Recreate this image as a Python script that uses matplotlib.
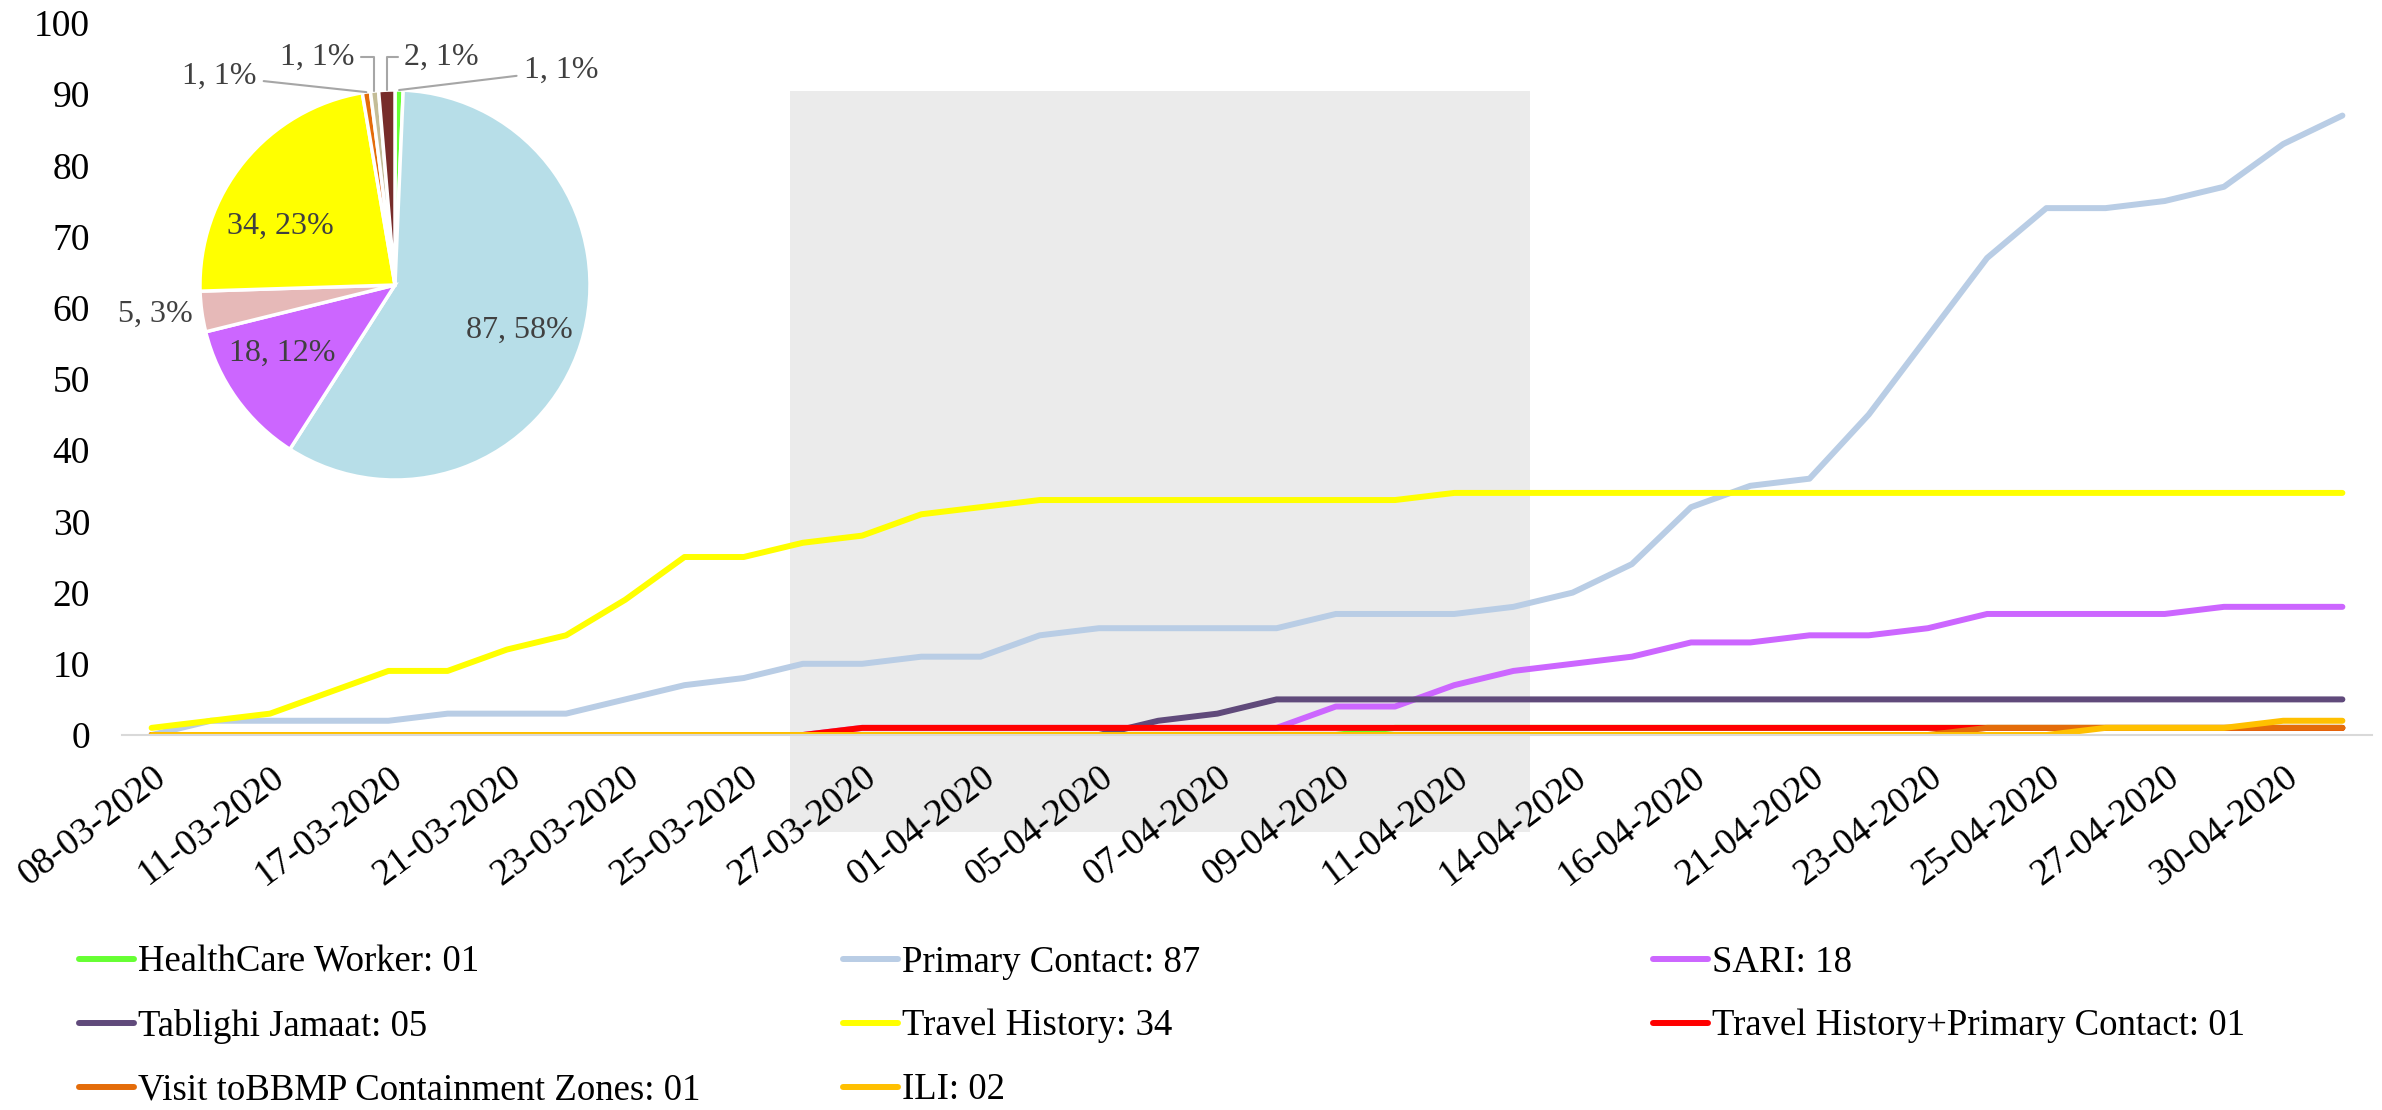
import matplotlib
matplotlib.use("Agg")
import matplotlib.pyplot as plt
from matplotlib.patches import Rectangle
from matplotlib.lines import Line2D
import numpy as np

plt.rcParams['font.family'] = ['Liberation Serif', 'DejaVu Serif']

W, H = 2382, 1110

# category axis (only every second date is labelled on the chart)
dates = ['08-03-2020', '09-03-2020', '11-03-2020', '14-03-2020', '17-03-2020',
         '19-03-2020', '21-03-2020', '22-03-2020', '23-03-2020', '24-03-2020',
         '25-03-2020', '26-03-2020', '27-03-2020', '29-03-2020', '01-04-2020',
         '03-04-2020', '05-04-2020', '06-04-2020', '07-04-2020', '08-04-2020',
         '09-04-2020', '10-04-2020', '11-04-2020', '13-04-2020', '14-04-2020',
         '15-04-2020', '16-04-2020', '18-04-2020', '21-04-2020', '22-04-2020',
         '23-04-2020', '24-04-2020', '25-04-2020', '26-04-2020', '27-04-2020',
         '28-04-2020', '30-04-2020', '01-05-2020']

healthcare = [0]*21 + [1]*17
primary = [0, 2, 2, 2, 2, 3, 3, 3, 5, 7, 8, 10, 10, 11, 11, 14, 15, 15, 15, 15,
           17, 17, 17, 18, 20, 24, 32, 35, 36, 45, 56, 67, 74, 74, 75, 77, 83, 87]
sari = [0]*12 + [1]*8 + [4, 4, 7, 9, 10, 11, 13, 13, 14, 14, 15, 17, 17, 17, 17, 18, 18, 18]
tablighi = [0]*17 + [2, 3] + [5]*19
travel = [1, 2, 3, 6, 9, 9, 12, 14, 19, 25, 25, 27, 28, 31, 32, 33, 33, 33, 33, 33,
          33, 33] + [34]*16
travel_primary = [0]*12 + [1]*26
bbmp = [0]*31 + [1]*7
ili = [0]*33 + [1, 1, 1, 2, 2]

series = [
    ('HealthCare Worker: 01', healthcare, '#66FF33'),
    ('Primary Contact: 87', primary, '#B9CDE5'),
    ('SARI: 18', sari, '#CC66FF'),
    ('Tablighi Jamaat: 05', tablighi, '#604A7B'),
    ('Travel History: 34', travel, '#FFFF00'),
    ('Travel History+Primary Contact: 01', travel_primary, '#FF0000'),
    ('Visit toBBMP Containment Zones: 01', bbmp, '#E46C0A'),
    ('ILI: 02', ili, '#FFC000'),
]

# pie of totals
pie_values = [1, 87, 18, 5, 34, 1, 1, 2]
pie_colors = ['#66FF33', '#B7DEE8', '#CC66FF', '#E6B9B8', '#FFFF00', '#E46C0A', '#C4BD97', '#772C2A']
pie_label_pos = [(0.85, 1.10), (0.64, -0.23), (-0.58, -0.35), (-1.23, -0.15),
                 (-0.59, 0.30), (-0.90, 1.07), (-0.40, 1.17), (0.24, 1.17)]

fig = plt.figure(figsize=(W/100, H/100), dpi=100)

# grey background panel behind the middle of the plot
fig.patches.append(Rectangle((790/W, 1 - 832/H), 740/W, 741/H, transform=fig.transFigure,
                             facecolor='#EBEBEB', edgecolor='none', zorder=-1))

ax = fig.add_axes([122/W, 1 - 735/H, 2250/W, 712/H])
ax.patch.set_visible(False)
x = np.arange(len(dates))
for name, vals, col in series:
    ax.plot(x, vals, color=col, lw=4.3, solid_capstyle='round', solid_joinstyle='round', label=name)

ax.set_xlim(-0.5, len(dates) - 0.5)
ax.set_ylim(0, 100)
ax.set_yticks(range(0, 101, 10))
ax.set_xticks(x[::2])
ax.set_xticklabels(dates[::2], rotation=37, ha='right', va='top', rotation_mode='anchor')
ax.tick_params(axis='both', length=0, labelsize=27)
ax.tick_params(axis='y', pad=23)
ax.tick_params(axis='x', pad=18)
for s in ['top', 'right', 'left']:
    ax.spines[s].set_visible(False)
ax.spines['bottom'].set_color('#D9D9D9')
ax.spines['bottom'].set_linewidth(1.5)

# legend: three columns laid out row by row
handles = [Line2D([], [], color=c, lw=4.3, solid_capstyle='round') for _, _, c in series]
names = [n for n, _, _ in series]
col_x = [79, 843, 1653]
for c in range(3):
    idx = list(range(c, len(series), 3))
    fig.legend([handles[i] for i in idx], [names[i] for i in idx],
               loc='upper left', bbox_to_anchor=(col_x[c]/W, 1 - 945/H),
               frameon=False, fontsize=26.5, handlelength=1.5, handletextpad=0.1,
               labelspacing=0.8, borderaxespad=0, borderpad=0)

# inset pie
r = 195
cx, cy = 395, 285
pax = fig.add_axes([(cx - r)/W, 1 - (cy + r)/H, 2*r/W, 2*r/H])
wedges, _ = pax.pie(pie_values, colors=pie_colors, startangle=90, counterclock=False,
                    wedgeprops=dict(edgecolor='white', linewidth=2.5))
pax.set_xlim(-1, 1)
pax.set_ylim(-1, 1)
total = sum(pie_values)
for i, (w, v) in enumerate(zip(wedges, pie_values)):
    txt = f"{v}, {round(100*v/total)}%"
    tx, ty = pie_label_pos[i]
    if np.hypot(tx, ty) > 1.05 and v < 5:
        ang = np.deg2rad((w.theta1 + w.theta2) / 2)
        conn = 'angle,angleA=0,angleB=90,rad=0' if abs(tx) < 0.5 else 'arc3'
        pax.annotate(txt, xy=(np.cos(ang), np.sin(ang)), xytext=(tx, ty),
                     ha='center', va='center', fontsize=23, color='#404040',
                     annotation_clip=False,
                     arrowprops=dict(arrowstyle='-', color='#A6A6A6', lw=1.5,
                                     connectionstyle=conn, shrinkA=3, shrinkB=0))
    else:
        pax.text(tx, ty, txt, ha='center', va='center', fontsize=23, color='#404040', clip_on=False)

fig.savefig('out.png', dpi=100)
